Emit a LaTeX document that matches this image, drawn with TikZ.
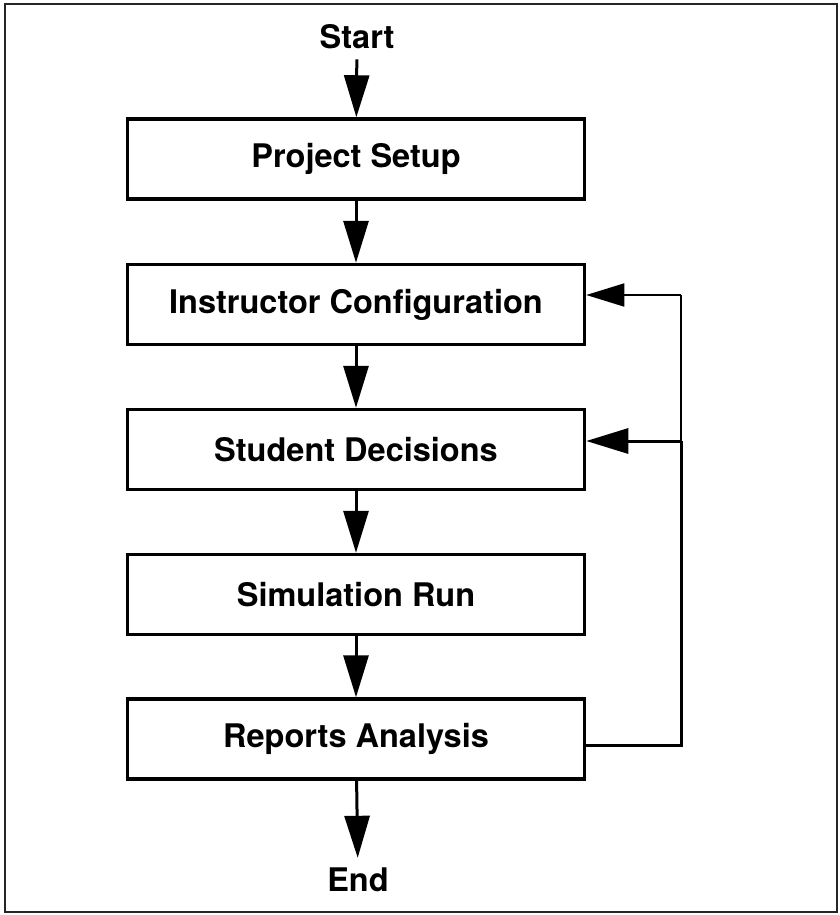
\documentclass[tikz,border=0pt]{standalone}
\usepackage{fontspec}
\setmainfont{TeX Gyre Heros}
\usetikzlibrary{arrows.meta}
\begin{document}
\begin{tikzpicture}[x=1pt,y=-1pt,
  box/.style={draw, line width=3.5pt, minimum width=457pt, minimum height=80pt, inner sep=0pt,
    font=\bfseries\fontsize{32.5}{38}\selectfont},
  lbl/.style={font=\bfseries\fontsize{32.5}{38}\selectfont, inner sep=10pt},
  arr/.style={line width=3pt, -{Triangle[length=42pt,width=25pt]}},
  fb/.style={line width=3pt}]
\useasboundingbox (0,0) rectangle (839,915);
\draw[line width=2.5pt, black!85] (5,4) rectangle (837,912);
\node[lbl] (start) at (357,37) {Start};
\node[box] (ps) at (356,159) {Project Setup};
\node[box] (ic) at (356,304.5) {Instructor Configuration};
\node[box] (sd) at (356,449.5) {Student Decisions};
\node[box] (sr) at (356,594.5) {Simulation Run};
\node[box] (ra) at (356,739) {Reports Analysis};
\node[lbl] (end) at (358,880) {End};
\draw[arr] (start) -- (ps);
\draw[arr] (ps) -- (ic);
\draw[arr] (ic) -- (sd);
\draw[arr] (sd) -- (sr);
\draw[arr] (sr) -- (ra);
\draw[arr] (ra) -- (end);
\coordinate (rc) at (681,745);
\coordinate (sc) at (681,441);
\coordinate (icc) at (681,295);
\draw[fb] (ra.east |- rc) -- (rc) -- (sc);
\draw[line width=1.8pt] (sc) -- (icc);
\draw[arr] (sc) -- (sd.east |- sc);
\draw[line width=1.8pt, -{Triangle[length=38pt,width=23pt]}] (icc) -- (ic.east |- icc);
\end{tikzpicture}
\end{document}
